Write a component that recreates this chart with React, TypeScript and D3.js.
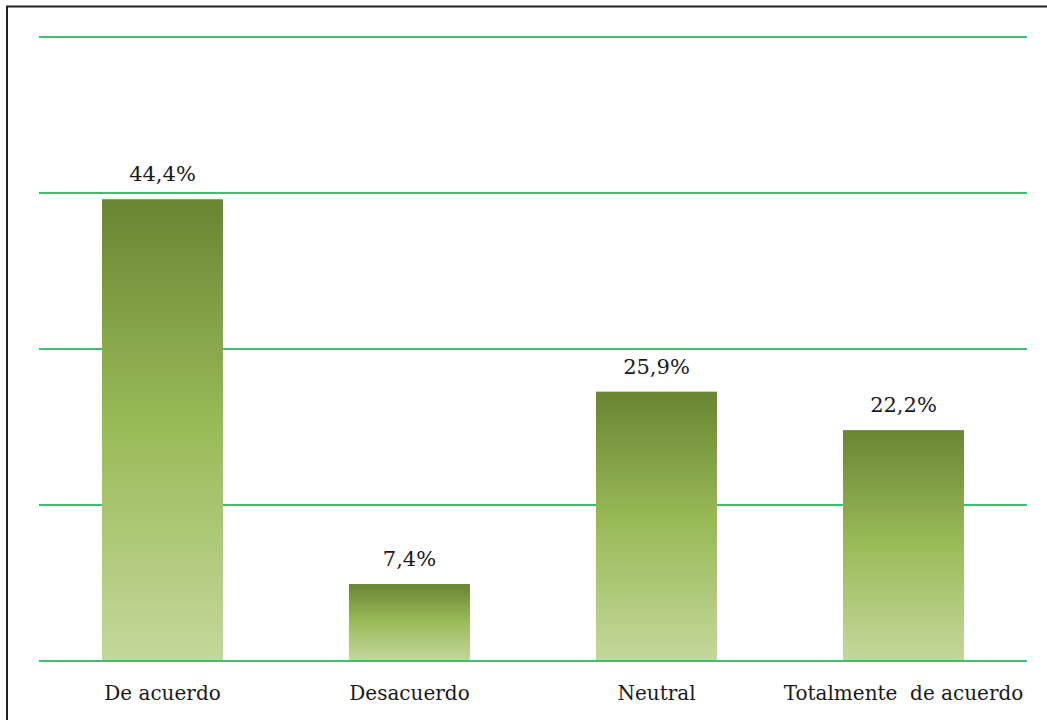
import React from "react";
import * as d3 from "d3";

const categories = ["De acuerdo", "Desacuerdo", "Neutral", "Totalmente  de acuerdo"];
const values = [44.4, 7.4, 25.9, 22.2];
const valueLabels = ["44,4%", "7,4%", "25,9%", "22,2%"];
const gridTicks = [0, 15, 30, 45, 60];

export default function App() {
  const W = 1047, H = 720;
  const x0 = 39, x1 = 1027, yTop = 37, yBottom = 661;
  const x = d3.scaleBand<string>().domain(categories).range([x0, x1]).paddingInner(0.51).paddingOuter(0.255);
  const y = d3.scaleLinear().domain([0, 60]).range([yBottom, yTop]);
  const font = "'DejaVu Serif', serif";
  return (
    <svg width={W} height={H} style={{ position: "absolute", left: 0, top: 0, background: "#fff" }}>
      <defs>
        <linearGradient id="barGrad" x1="0" y1="0" x2="0" y2="1">
          <stop offset="0%" stopColor="#6a8533" />
          <stop offset="50%" stopColor="#9bbb59" />
          <stop offset="100%" stopColor="#c4d79b" />
        </linearGradient>
      </defs>
      <rect x={7} y={6.5} width={W + 10} height={H + 10} fill="none" stroke="#222" strokeWidth={2} />
      {gridTicks.map((t) => (
        <line key={t} x1={x0} x2={x1} y1={y(t)} y2={y(t)} stroke="#3cbf6e" strokeWidth={2} />
      ))}
      {categories.map((c, i) => (
        <g key={c}>
          <rect x={x(c)} y={y(values[i])} width={x.bandwidth()} height={yBottom - y(values[i]) - 1} fill="url(#barGrad)" />
          <text x={(x(c) as number) + x.bandwidth() / 2} y={y(values[i]) - 18} textAnchor="middle" style={{ fontFamily: font, fontSize: "21px" }} fill="#1a1a1a">
            {valueLabels[i]}
          </text>
          <text x={(x(c) as number) + x.bandwidth() / 2} y={700} textAnchor="middle" style={{ fontFamily: font, fontSize: "20px", whiteSpace: "pre" }} fill="#1a1a1a">
            {c}
          </text>
        </g>
      ))}
    </svg>
  );
}
